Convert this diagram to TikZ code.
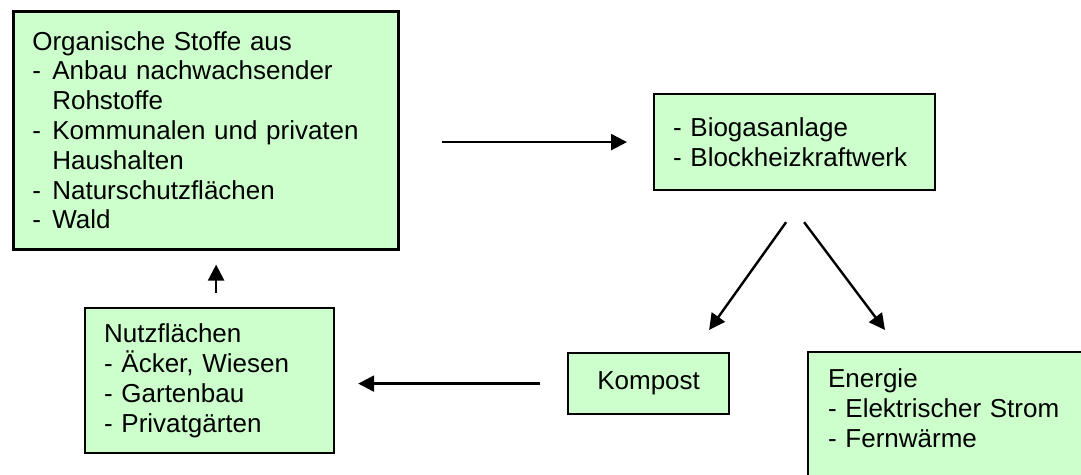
\documentclass[tikz,border=0pt]{standalone}
\usepackage{fontspec}
\setmainfont{Liberation Sans}
\usetikzlibrary{arrows.meta, calc}
\definecolor{kreisgruen}{RGB}{204,255,204}
\newcommand{\strich}{\makebox[10pt][l]{-}}
\tikzset{
  %% ---- boxes ----
  kasten/.style  = {rectangle, draw=black, line width=1.1pt,
                    fill=kreisgruen, anchor=north west, align=left,
                    inner xsep=9.5pt, inner ysep=0pt,
                    font=\fontsize{13}{14.9}\selectfont},
  mitte/.style   = {kasten, align=center, inner xsep=0pt},
  %% ---- arrows ----
  pfeil/.style   = {-{Triangle[length=8pt, width=8pt]}, line width=1.2pt},
}

\begin{document}
\begin{tikzpicture}[x=0.5pt, y=-0.5pt]

  \clip (0,0) rectangle (1081,475);

  \node[kasten, line width=1.3pt, text width=173.5pt,
        minimum width=192.5pt, minimum height=119pt] (org) at (12,10)
    {Organische Stoffe aus\\
     \strich Anbau nachwachsender\\
     \hspace*{10pt}Rohstoffe\\
     \strich Kommunalen und privaten\\
     \hspace*{10pt}Haushalten\\
     \strich Naturschutzfl\"achen\\
     \strich Wald};

  \node[kasten, text width=121.5pt,
        minimum width=140.5pt, minimum height=48pt] (bio) at (653,93)
    {- Biogasanlage\\
     - Blockheizkraftwerk};

  \node[mitte, minimum width=80.5pt, minimum height=30.5pt] (kompost) at (567,352)
    {Kompost};

  \node[kasten, text width=105.5pt,
        minimum width=124.5pt, minimum height=72.5pt] (nutz) at (84,307)
    {Nutzfl\"achen\\
     - \"Acker, Wiesen\\
     - Gartenbau\\
     - Privatg\"arten};

  %% runs past the page edge on the right and at the bottom
  \node[kasten, inner xsep=10pt, inner ysep=8.5pt, text width=150pt,
        text depth=100pt] (energie) at (807,351)
    {Energie\\
     - Elektrischer Strom\\
     - Fernw\"arme};

  \draw[pfeil] ($(org.east |- bio.west)+(42,0)$) -- ($(bio.west)+(-26,0)$);
  \draw[pfeil] ($(bio.south)+(-8.5,31)$) -- ($(kompost.north)+(60.5,-22)$);
  \draw[pfeil] ($(bio.south)+(9.5,31)$) -- ($(energie.north west)+(78,-21)$);
  \draw[pfeil] ($(kompost.west)+(-27,0)$) -- ($(nutz.east |- kompost.west)+(23,0)$);
  \draw[pfeil] ($(nutz.north)+(6.5,-14)$) -- ($(nutz.north |- org.south)+(6.5,14)$);

\end{tikzpicture}
\end{document}
